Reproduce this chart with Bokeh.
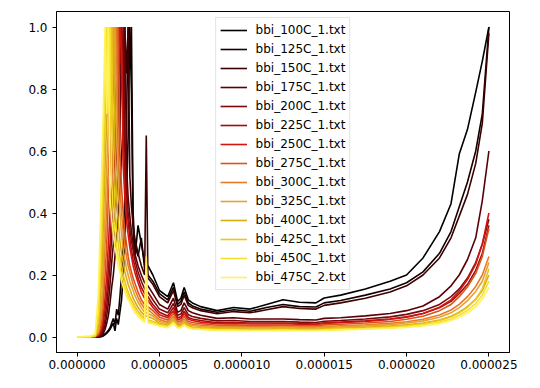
from bokeh.plotting import figure
from bokeh.models import Range1d, FixedTicker, NumeralTickFormatter, Legend, LegendItem
from bokeh.embed import file_html
from bokeh.resources import INLINE

# shared time grid, in microseconds
X_US = [0.0, 0.8, 1.1, 1.3, 1.5, 1.6, 1.7, 1.8, 1.9, 2.0,
        2.1, 2.2, 2.3, 2.4, 2.5, 2.6, 2.7, 2.8, 2.9, 3.0,
        3.1, 3.2, 3.3, 3.4, 3.5, 3.7, 3.9, 4.1, 4.2, 4.3,
        4.6, 5.0, 5.5, 5.85, 6.1, 6.3, 6.5, 6.75, 7.0, 7.5,
        8.5, 9.5, 10.5, 11.5, 12.5, 13.5, 14.5, 15.0, 16.0, 17.5,
        19.0, 20.0, 21.0, 22.0, 22.7, 23.2, 23.7, 24.2, 24.6, 25.0]

labels = ["bbi_100C_1.txt", "bbi_125C_1.txt", "bbi_150C_1.txt", "bbi_175C_1.txt",
          "bbi_200C_1.txt", "bbi_225C_1.txt", "bbi_250C_1.txt", "bbi_275C_1.txt",
          "bbi_300C_1.txt", "bbi_325C_1.txt", "bbi_400C_1.txt", "bbi_425C_1.txt",
          "bbi_450C_1.txt", "bbi_475C_2.txt"]

colors = ["#000000", "#140000", "#3d0000", "#5a0008", "#7a0a0a", "#a00d0d", "#d41414",
          "#d9541a", "#e97a25", "#e8a035", "#d9ac10", "#ebc51a", "#f7e02a", "#fff25a"]

y_100C = [0, 0, 0, 0, 0.002, 0.004, 0.008, 0.012, 0.018, 0.025,
          0.035, 0.045, 0.02, 0.06, 0.04, 0.08, 0.12, 0.2, 0.3, 0.45,
          0.65, 1.0, 0.79, 0.35, 0.25, 0.36, 0.3, 0.24, 0.22, 0.23,
          0.2, 0.15, 0.13, 0.175, 0.115, 0.125, 0.16, 0.12, 0.11, 0.098,
          0.085, 0.095, 0.09, 0.105, 0.12, 0.112, 0.11, 0.126, 0.135, 0.155,
          0.18, 0.2, 0.255, 0.34, 0.43, 0.59, 0.67, 0.79, 0.89, 1.0]
y_125C = [0, 0, 0, 0, 0.002, 0.005, 0.01, 0.015, 0.022, 0.03,
          0.045, 0.06, 0.04, 0.09, 0.07, 0.13, 0.2, 0.3, 0.45, 0.7,
          1.0, 0.9, 1.0, 0.4, 0.3, 0.26, 0.32, 0.22, 0.21, 0.2,
          0.18, 0.14, 0.12, 0.16, 0.105, 0.115, 0.145, 0.11, 0.1, 0.09,
          0.08, 0.088, 0.083, 0.095, 0.105, 0.098, 0.097, 0.11, 0.118, 0.135,
          0.155, 0.175, 0.21, 0.27, 0.34, 0.42, 0.5, 0.6, 0.72, 1.0]
y_150C = [0, 0, 0, 0.001, 0.005, 0.012, 0.025, 0.045, 0.07, 0.11,
          0.16, 0.2, 0.26, 0.32, 0.4, 0.48, 0.58, 0.7, 1.0, 0.85,
          1.0, 0.52, 0.42, 0.36, 0.32, 0.27, 0.23, 0.2, 0.65, 0.19,
          0.17, 0.13, 0.11, 0.15, 0.098, 0.105, 0.135, 0.102, 0.094, 0.085,
          0.075, 0.082, 0.078, 0.088, 0.098, 0.092, 0.09, 0.102, 0.11, 0.125,
          0.145, 0.165, 0.2, 0.255, 0.32, 0.39, 0.46, 0.56, 0.69, 0.98]
y_175C = [0, 0, 0.001, 0.002, 0.008, 0.02, 0.04, 0.07, 0.11, 0.17,
          0.24, 0.3, 0.38, 0.46, 0.55, 0.65, 1.0, 0.65, 1.0, 0.55,
          0.45, 0.39, 0.34, 0.3, 0.27, 0.23, 0.2, 0.175, 0.17, 0.165,
          0.14, 0.105, 0.09, 0.125, 0.08, 0.085, 0.11, 0.085, 0.078, 0.07,
          0.06, 0.062, 0.058, 0.058, 0.058, 0.056, 0.055, 0.06, 0.062, 0.068,
          0.076, 0.085, 0.1, 0.13, 0.165, 0.2, 0.25, 0.32, 0.44, 0.6]
y_200C = [0, 0, 0.001, 0.003, 0.012, 0.03, 0.06, 0.1, 0.16, 0.24,
          0.32, 0.4, 0.5, 0.6, 0.7, 1.0, 0.8, 1.0, 0.6, 0.48,
          0.4, 0.35, 0.31, 0.28, 0.25, 0.21, 0.18, 0.155, 0.15, 0.145,
          0.12, 0.09, 0.078, 0.108, 0.07, 0.074, 0.095, 0.072, 0.066, 0.06,
          0.052, 0.053, 0.05, 0.05, 0.05, 0.048, 0.047, 0.051, 0.053, 0.058,
          0.065, 0.073, 0.085, 0.105, 0.13, 0.155, 0.19, 0.24, 0.3, 0.38]
y_225C = [0, 0.001, 0.001, 0.004, 0.02, 0.05, 0.09, 0.14, 0.22, 0.3,
          0.4, 0.5, 0.6, 0.72, 1.0, 0.88, 1.0, 0.65, 0.52, 0.43,
          0.37, 0.32, 0.28, 0.25, 0.23, 0.19, 0.16, 0.14, 0.135, 0.13,
          0.105, 0.08, 0.068, 0.095, 0.062, 0.065, 0.083, 0.063, 0.058, 0.053,
          0.046, 0.047, 0.045, 0.045, 0.045, 0.043, 0.042, 0.046, 0.048, 0.052,
          0.058, 0.065, 0.076, 0.094, 0.115, 0.14, 0.17, 0.215, 0.27, 0.36]
y_250C = [0, 0.001, 0.002, 0.006, 0.03, 0.07, 0.13, 0.2, 0.3, 0.4,
          0.5, 0.62, 0.75, 1.0, 0.85, 1.0, 0.92, 0.55, 0.45, 0.38,
          0.33, 0.29, 0.26, 0.23, 0.21, 0.175, 0.145, 0.125, 0.12, 0.118,
          0.095, 0.072, 0.062, 0.085, 0.056, 0.059, 0.075, 0.057, 0.053, 0.048,
          0.043, 0.044, 0.042, 0.042, 0.043, 0.041, 0.04, 0.044, 0.046, 0.05,
          0.057, 0.064, 0.076, 0.096, 0.12, 0.148, 0.185, 0.235, 0.3, 0.40]
y_275C = [0, 0.001, 0.002, 0.01, 0.05, 0.12, 0.2, 0.3, 0.45, 0.55,
          0.7, 0.8, 1.0, 0.9, 1.0, 0.6, 0.48, 0.4, 0.34, 0.3,
          0.26, 0.23, 0.21, 0.19, 0.175, 0.145, 0.12, 0.104, 0.1, 0.098,
          0.085, 0.064, 0.055, 0.076, 0.05, 0.052, 0.066, 0.05, 0.047, 0.043,
          0.038, 0.039, 0.037, 0.037, 0.038, 0.036, 0.036, 0.039, 0.041, 0.045,
          0.05, 0.057, 0.067, 0.085, 0.105, 0.13, 0.162, 0.205, 0.26, 0.35]
y_300C = [0, 0.001, 0.002, 0.015, 0.08, 0.18, 0.3, 0.42, 0.55, 0.68,
          0.8, 1.0, 0.88, 1.0, 0.6, 0.48, 0.4, 0.34, 0.29, 0.26,
          0.23, 0.21, 0.19, 0.17, 0.155, 0.128, 0.107, 0.092, 0.09, 0.088,
          0.075, 0.056, 0.048, 0.067, 0.044, 0.046, 0.058, 0.044, 0.041, 0.038,
          0.034, 0.034, 0.033, 0.033, 0.034, 0.032, 0.032, 0.034, 0.036, 0.039,
          0.044, 0.049, 0.057, 0.071, 0.087, 0.105, 0.13, 0.163, 0.2, 0.26]
y_325C = [0, 0.001, 0.002, 0.02, 0.12, 0.25, 0.4, 0.55, 0.68, 0.8,
          1.0, 0.85, 1.0, 0.65, 0.48, 0.4, 0.33, 0.28, 0.25, 0.22,
          0.2, 0.18, 0.165, 0.15, 0.135, 0.112, 0.094, 0.08, 0.078, 0.076,
          0.068, 0.05, 0.043, 0.06, 0.04, 0.041, 0.052, 0.04, 0.037, 0.034,
          0.031, 0.031, 0.03, 0.03, 0.031, 0.029, 0.029, 0.031, 0.033, 0.036,
          0.04, 0.045, 0.052, 0.064, 0.078, 0.095, 0.117, 0.147, 0.18, 0.24]
y_400C = [0, 0.001, 0.003, 0.03, 0.2, 0.38, 0.55, 0.7, 0.82, 1.0,
          0.78, 1.0, 0.6, 0.45, 0.37, 0.31, 0.27, 0.24, 0.21, 0.19,
          0.17, 0.155, 0.14, 0.125, 0.115, 0.095, 0.08, 0.07, 0.068, 0.066,
          0.06, 0.044, 0.038, 0.053, 0.035, 0.036, 0.046, 0.035, 0.032, 0.03,
          0.027, 0.027, 0.026, 0.026, 0.027, 0.026, 0.026, 0.027, 0.029, 0.031,
          0.035, 0.039, 0.045, 0.055, 0.067, 0.08, 0.098, 0.122, 0.15, 0.20]
y_425C = [0, 0.001, 0.004, 0.05, 0.3, 0.5, 0.7, 0.85, 1.0, 0.8,
          1.0, 0.55, 0.42, 0.35, 0.3, 0.26, 0.23, 0.2, 0.18, 0.16,
          0.145, 0.13, 0.12, 0.11, 0.1, 0.082, 0.07, 0.06, 0.2, 0.056,
          0.05, 0.041, 0.035, 0.05, 0.033, 0.034, 0.043, 0.033, 0.03, 0.028,
          0.025, 0.025, 0.024, 0.024, 0.025, 0.024, 0.024, 0.025, 0.027, 0.029,
          0.033, 0.037, 0.043, 0.053, 0.065, 0.078, 0.096, 0.122, 0.155, 0.22]
y_450C = [0, 0.002, 0.005, 0.08, 0.4, 0.65, 0.85, 1.0, 0.73, 1.0,
          0.5, 0.4, 0.34, 0.29, 0.26, 0.23, 0.2, 0.18, 0.16, 0.145,
          0.13, 0.12, 0.11, 0.1, 0.09, 0.075, 0.063, 0.054, 0.24, 0.05,
          0.046, 0.038, 0.033, 0.047, 0.031, 0.032, 0.04, 0.031, 0.028, 0.026,
          0.023, 0.023, 0.022, 0.022, 0.023, 0.022, 0.022, 0.023, 0.025, 0.027,
          0.03, 0.034, 0.039, 0.048, 0.058, 0.07, 0.086, 0.108, 0.135, 0.18]
y_475C = [0, 0.002, 0.01, 0.15, 0.55, 0.75, 1.0, 0.72, 1.0, 0.45,
          0.38, 0.33, 0.29, 0.26, 0.23, 0.21, 0.18, 0.16, 0.145, 0.13,
          0.12, 0.11, 0.1, 0.09, 0.08, 0.066, 0.056, 0.048, 0.26, 0.045,
          0.042, 0.035, 0.03, 0.044, 0.029, 0.03, 0.038, 0.029, 0.026, 0.024,
          0.021, 0.021, 0.02, 0.02, 0.021, 0.02, 0.02, 0.021, 0.023, 0.025,
          0.028, 0.031, 0.036, 0.044, 0.053, 0.064, 0.078, 0.098, 0.122, 0.16]

series = [y_100C, y_125C, y_150C, y_175C, y_200C, y_225C, y_250C,
          y_275C, y_300C, y_325C, y_400C, y_425C, y_450C, y_475C]

x_ticks = [0.0, 5e-6, 10e-6, 15e-6, 20e-6, 25e-6]
y_ticks = [0.0, 0.2, 0.4, 0.6, 0.8, 1.0]

x_vals = [v * 1e-6 for v in X_US]

p = figure(width=536, height=386, output_backend="svg", toolbar_location=None,
           x_range=Range1d(-1.25e-6, 26.25e-6), y_range=Range1d(-0.05, 1.05),
           min_border_left=56, min_border_right=27, min_border_top=11, min_border_bottom=34)
p.background_fill_color = "white"
p.border_fill_color = "white"
p.outline_line_color = "black"
p.outline_line_width = 1
p.outline_line_alpha = 1
p.xgrid.visible = False
p.ygrid.visible = False

items = []
for lab, col, ys in zip(labels, colors, series):
    r = p.line(x_vals, ys, line_color=col, line_width=1.6)
    items.append(LegendItem(label=lab, renderers=[r]))

legend = Legend(items=items, location="top_center", margin=6, padding=4,
                spacing=3, glyph_width=27, glyph_height=16, label_height=16,
                label_standoff=9, label_text_font="DejaVu Sans",
                label_text_font_size="12px", label_text_color="black",
                border_line_color="#cccccc", border_line_width=1,
                background_fill_color="white", background_fill_alpha=0.8)
p.add_layout(legend)

for ax in (p.xaxis[0], p.yaxis[0]):
    ax.axis_line_color = "black"
    ax.major_tick_line_color = "black"
    ax.major_tick_out = 4
    ax.major_tick_in = 0
    ax.minor_tick_line_color = None
    ax.major_label_text_font = "DejaVu Sans"
    ax.major_label_text_font_size = "12px"
    ax.major_label_text_color = "black"

p.xaxis[0].ticker = FixedTicker(ticks=x_ticks)
p.xaxis[0].formatter = NumeralTickFormatter(format="0.000000")
p.xaxis[0].major_label_standoff = 3
p.yaxis[0].ticker = FixedTicker(ticks=y_ticks)
p.yaxis[0].formatter = NumeralTickFormatter(format="0.0")
p.yaxis[0].major_label_standoff = 5

open("out.html", "w").write(file_html(p, INLINE))
